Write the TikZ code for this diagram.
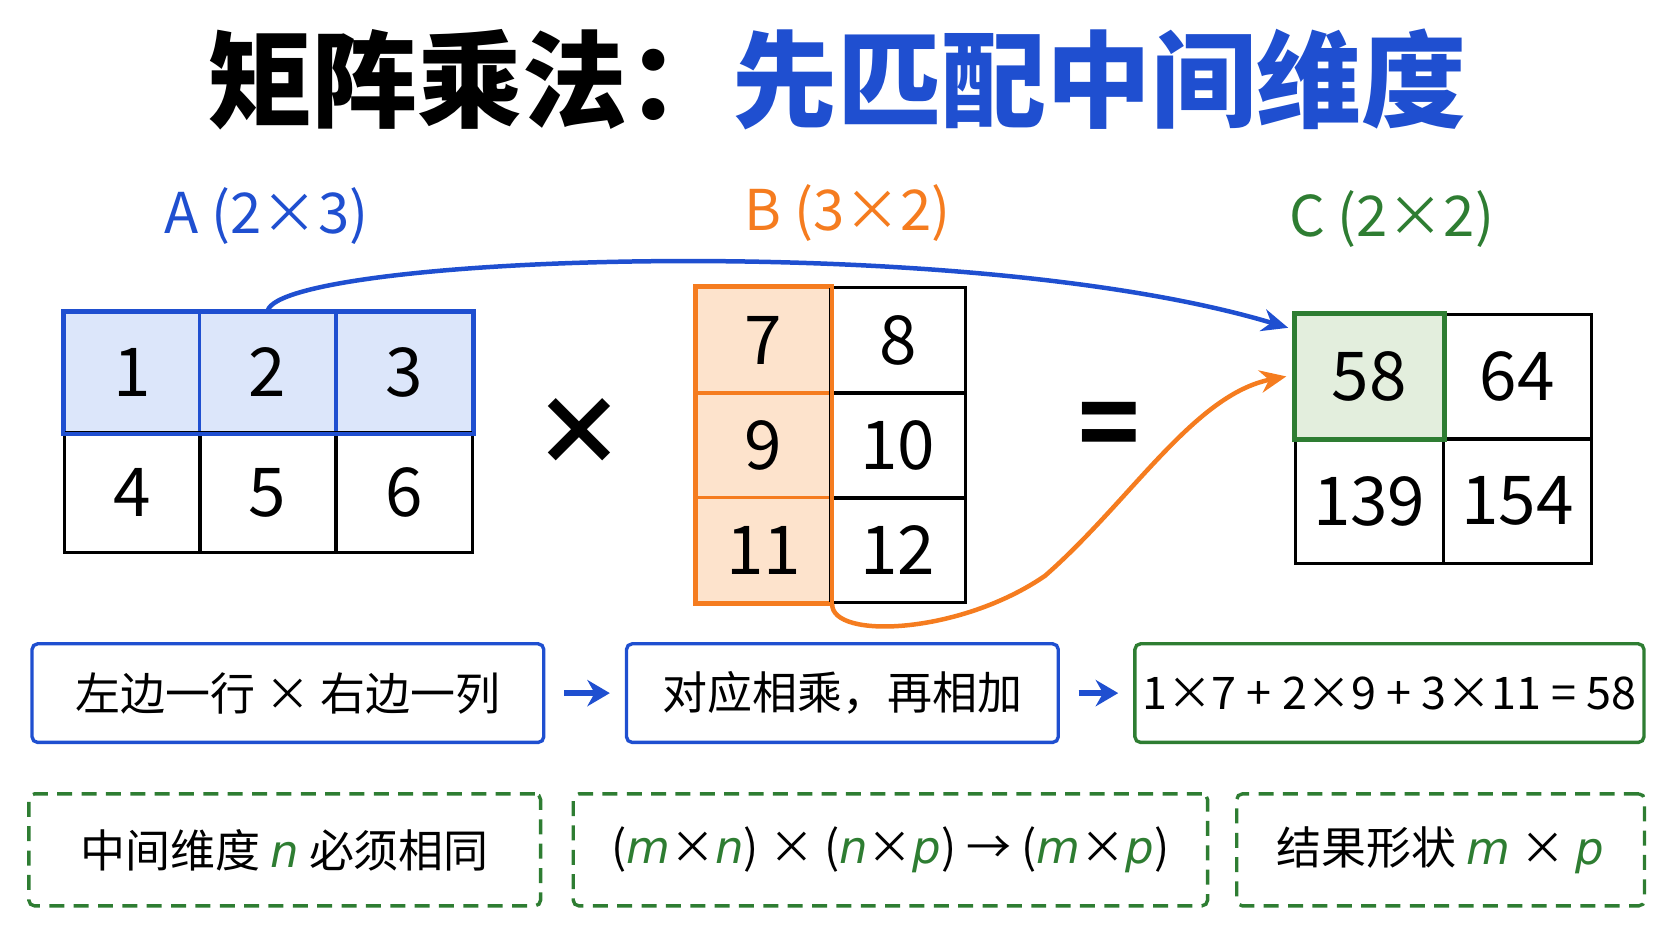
\documentclass[tikz,border=0pt]{standalone}
\usepackage{fontspec}
\setmainfont{Noto Sans CJK SC}
\newfontfamily\varfont{DejaVu Sans}
\usetikzlibrary{arrows.meta,positioning}
\definecolor{mblue}{HTML}{1F4FD0}
\definecolor{morange}{HTML}{F57C1F}
\definecolor{mgreen}{HTML}{2E7D32}
\definecolor{fblue}{HTML}{DCE6FA}
\definecolor{forange}{HTML}{FDE3CC}
\definecolor{fgreen}{HTML}{E3EEDD}
\newcommand{\gv}[1]{\textcolor{mgreen}{\varfont\itshape #1}}
\begin{document}
\begin{tikzpicture}[x=0.02cm,y=-0.02cm,line width=1.6pt,
    cell/.style={draw=black,rectangle,inner sep=0pt,font=\fontsize{36}{40}\selectfont},
    acell/.style={cell,minimum width=2.553cm,minimum height=2.25cm},
    bcell/.style={cell,minimum width=2.52cm,minimum height=1.966cm},
    ccell/.style={cell,minimum width=2.77cm,minimum height=2.33cm},
    plain/.style={},
    hiblue/.style={fill=fblue,draw=mblue},
    hiorange/.style={fill=forange,draw=morange},
    higreen/.style={fill=fgreen,draw=mgreen},
    lbl/.style={font=\fontsize{30}{34}\selectfont},
    info/.style={draw,rounded corners=3pt,line width=1.8pt,minimum height=1.85cm,font=\fontsize{24}{28}\selectfont},
    hint/.style={info,dashed,dash pattern=on 8pt off 5pt,draw=mgreen,minimum height=2.1cm},
    flow/.style={-{Stealth[length=12pt,width=14pt]},mblue,line width=3.2pt,shorten <=10pt,shorten >=8pt}]
  \useasboundingbox (0,0) rectangle (1568,882);
  % title
  \node (title) at (785,75) {\fontsize{56}{60}\selectfont\bfseries 矩阵乘法：\textcolor{mblue}{先匹配中间维度}};
  % matrix labels
  \node[lbl,mblue] (la) at (250,203) {A (2×3)};
  \node[lbl,morange] (lb) at (795,200) {B (3×2)};
  \node[lbl,mgreen] (lc) at (1305,205) {C (2×2)};
  % matrix A
  \foreach \v/\x/\y/\n/\s in {1/124/349/a11/hiblue,2/251/349/a12/hiblue,3/379/349/a13/hiblue,4/124/462/a21/plain,5/251/462/a22/plain,6/379/462/a23/plain}
    \node[acell,\s] (\n) at (\x,\y) {\v};
  % matrix B
  \foreach \v/\x/\y/\n/\s in {7/716/319/b11/hiorange,8/842/319/b12/plain,9/716/418/b21/hiorange,10/842/418/b22/plain,11/716/516/b31/hiorange,12/842/516/b32/plain}
    \node[bcell,\s] (\n) at (\x,\y) {\v};
  % matrix C
  \foreach \v/\x/\y/\n/\s in {58/1284/353/c11/higreen,64/1423/353/c12/plain,139/1284/470/c21/plain,154/1423/470/c22/plain}
    \node[ccell,\s] (\n) at (\x,\y) {\v};
  % highlight frames
  \draw[mblue,line width=2.2pt] (a11.north west) rectangle (a13.south east);
  \draw[morange,line width=2.2pt] (b11.north west) rectangle (b31.south east);
  \draw[mgreen,line width=2.2pt] (c11.north west) rectangle (c11.south east);
  % operators
  \node[font=\fontsize{50}{50}\selectfont\bfseries] (times) at (543,405) {×};
  \node[font=\fontsize{54}{54}\selectfont\bfseries] (eq) at (1040,405) {=};
  % connectors
  \draw[-{Stealth[length=14pt,width=12pt]},mblue,line width=2.4pt] (a12.north) .. controls (265,240) and (900,215) .. ([xshift=-3pt,yshift=-8pt]c11.north west);
  \draw[-{Stealth[length=14pt,width=12pt]},morange,line width=2.4pt] (b31.south east) .. controls (780,600) and (900,595) .. (980,540) .. controls (1060,470) and (1120,370) .. ([xshift=-4pt]c11.west);
  % explanation boxes
  \node[info,draw=mblue,minimum width=9.6cm] (s1) at (270,650) {左边一行 × 右边一列};
  \node[info,draw=mblue,minimum width=8.1cm] (s2) at (790,650) {对应相乘，再相加};
  \node[info,draw=mgreen,minimum width=9.55cm] (s3) at (1303,650) {1×7 + 2×9 + 3×11 = 58};
  \draw[flow] (s1) -- (s2);
  \draw[flow] (s2) -- (s3);
  % rules
  \node[hint,minimum width=9.6cm] (r1) at (267,797) {中间维度 \gv{n} 必须相同};
  \node[hint,minimum width=11.9cm] (r2) at (835,797) {(\gv{m}×\gv{n}) × (\gv{n}×\gv{p}) → (\gv{m}×\gv{p})};
  \node[hint,minimum width=7.65cm] (r3) at (1351,797) {结果形状 \gv{m} × \gv{p}};
\end{tikzpicture}
\end{document}
